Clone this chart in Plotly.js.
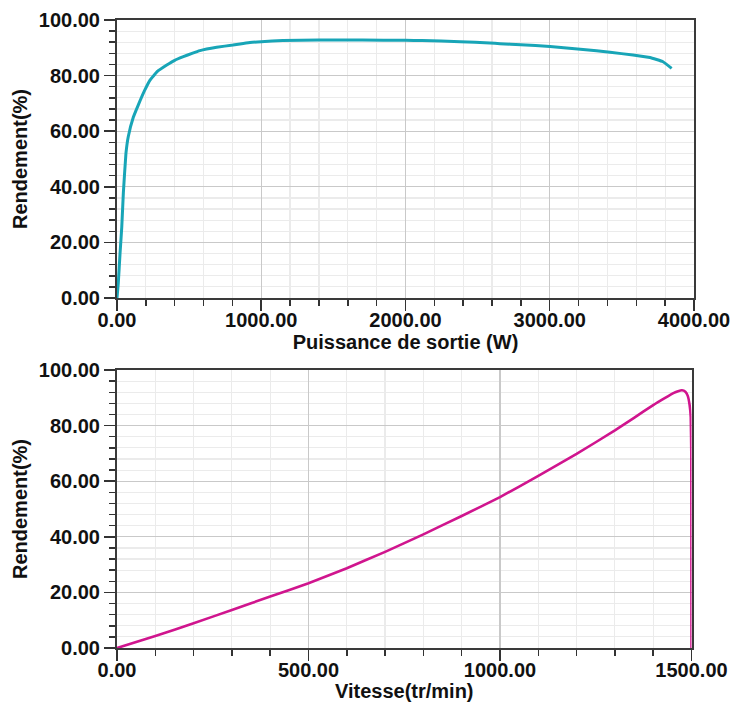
<!DOCTYPE html>
<html>
<head>
<meta charset="utf-8">
<script src="https://cdn.plot.ly/plotly-3.0.1.min.js"></script>
<style>
  html, body { margin: 0; padding: 0; background: #ffffff; }
  #chart { width: 734px; height: 702px; }
</style>
</head>
<body>
<div id="chart"></div>
<script>
// Efficiency versus output power (W)
const puissance = [0, 9, 21, 33, 44, 62, 78, 113, 148, 190, 229, 280, 345, 400, 460, 520, 575, 691, 804, 853, 922, 1000, 1150, 1400, 1700, 2000, 2115, 2380, 2585, 2655, 2800, 3002, 3231, 3418, 3577, 3695, 3785, 3845];
const rendementPuissance = [0, 5.4, 16, 25.5, 37.8, 52, 58, 65, 69.5, 74.5, 78.4, 81.5, 83.8, 85.5, 86.8, 88, 89, 90.2, 91, 91.4, 91.9, 92.2, 92.6, 92.8, 92.8, 92.7, 92.6, 92.2, 91.7, 91.5, 91.1, 90.5, 89.4, 88.4, 87.4, 86.5, 85.0, 82.6];

// Efficiency versus speed (tr/min)
const vitesse = [0, 100, 200, 300, 400, 500, 600, 700, 800, 900, 1000, 1100, 1200, 1300, 1350, 1400, 1430, 1454, 1465, 1475, 1484, 1490, 1495, 1498, 1499.5, 1500];
const rendementVitesse = [0, 4.3, 8.9, 13.7, 18.5, 23.3, 28.7, 34.6, 40.9, 47.5, 54.3, 61.9, 69.8, 78.3, 82.8, 87.4, 89.9, 91.8, 92.4, 92.7, 92.2, 90.8, 87.5, 83, 70, 0];

// Tick values
const ticksPuissance = [0, 1000, 2000, 3000, 4000];
const ticksVitesse = [0, 500, 1000, 1500];
const ticksRendement = [0, 20, 40, 60, 80, 100];

const FONT = 'Liberation Sans, Arial, sans-serif';
const tickFont = { family: FONT, size: 20, color: '#111111', weight: 700 };
const titleFont = { family: FONT, size: 20, color: '#111111', weight: 700 };

function xAxis(domain, anchor, tickvals, minorStep, title, range, margin) {
  const ax = {
    domain: domain, anchor: anchor, range: range,
    tickmode: 'array', tickvals: tickvals, tickformat: '.2f',
    ticks: 'outside', ticklen: 11, tickwidth: 1.5, tickcolor: '#333333',
    ticklabelstandoff: -8,
    tickfont: tickFont,
    showline: true, linecolor: '#3a3a3a', linewidth: 2, mirror: true,
    showgrid: true, gridcolor: '#c9c9c9', gridwidth: 1.2,
    minor: { dtick: minorStep, ticks: 'outside', ticklen: 6, tickwidth: 1.5, tickcolor: '#333333',
             showgrid: true, gridcolor: '#ebebeb', gridwidth: 1.2 },
    zeroline: false, fixedrange: true, automargin: margin,
    title: { text: title, font: titleFont }
  };
  if (margin) ax.title.standoff = 2;
  return ax;
}

function yAxis(domain, anchor) {
  return {
    domain: domain, anchor: anchor, range: [0, 100],
    tickmode: 'array', tickvals: ticksRendement, tickformat: '.2f',
    ticks: 'outside', ticklen: 11, tickwidth: 1.5, tickcolor: '#333333',
    tickfont: tickFont,
    showline: true, linecolor: '#3a3a3a', linewidth: 2, mirror: true,
    showgrid: true, gridcolor: '#c9c9c9', gridwidth: 1.2,
    minor: { dtick: 4, ticks: 'outside', ticklen: 6, tickwidth: 1.5, tickcolor: '#333333',
             showgrid: true, gridcolor: '#ebebeb', gridwidth: 1.2 },
    zeroline: false, fixedrange: true, automargin: false,
    title: { text: 'Rendement(%)', font: titleFont, standoff: 6 }
  };
}

const traces = [
  {
    x: puissance, y: rendementPuissance, xaxis: 'x', yaxis: 'y',
    type: 'scatter', mode: 'lines',
    line: { color: '#18a5b7', width: 3, shape: 'spline', smoothing: 0.3 },
    cliponaxis: false, hoverinfo: 'skip'
  },
  {
    x: vitesse, y: rendementVitesse, xaxis: 'x2', yaxis: 'y2',
    type: 'scatter', mode: 'lines',
    line: { color: '#d0158e', width: 2.6, shape: 'spline', smoothing: 0.3 },
    cliponaxis: false, hoverinfo: 'skip'
  }
];

const layout = {
  width: 734, height: 702,
  margin: { l: 0, r: 0, t: 0, b: 0, pad: 0 },
  paper_bgcolor: '#ffffff', plot_bgcolor: '#ffffff',
  showlegend: false,
  xaxis: xAxis([0.1594, 0.9455], 'y', ticksPuissance, 200, 'Puissance de sortie (W)', [0, 4000], 'height'),
  yaxis: yAxis([0.5755, 0.9715], 'x'),
  xaxis2: xAxis([0.1594, 0.9421], 'y2', ticksVitesse, 100, 'Vitesse(tr/min)', [0, 1500], false),
  yaxis2: yAxis([0.0769, 0.4729], 'x2')
};

Plotly.newPlot('chart', traces, layout, { staticPlot: true, displayModeBar: false });
</script>
</body>
</html>
